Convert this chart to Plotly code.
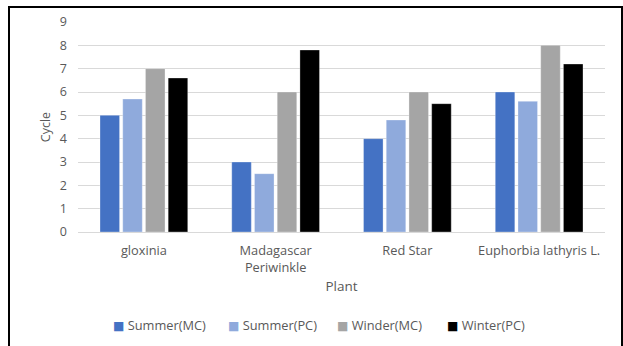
import plotly.graph_objects as go

plants = ["gloxinia", "Madagascar<br>Periwinkle", "Red Star", "Euphorbia lathyris L."]
summer_mc = [5, 3, 4, 6]
summer_pc = [5.7, 2.5, 4.8, 5.6]
winder_mc = [7, 6, 6, 8]
winter_pc = [6.6, 7.8, 5.5, 7.2]

series_names = ["Summer(MC)", "Summer(PC)", "Winder(MC)", "Winter(PC)"]
series_values = [summer_mc, summer_pc, winder_mc, winter_pc]
series_colors = ["#4472C4", "#8FAADC", "#A5A5A5", "#000000"]

W, H = 623, 346
L, R, T, B = 78, 18, 22, 114
pw, ph = W - L - R, H - T - B


def px_x(p):
    return (p - L) / pw


def px_y(p):
    return (H - B - p) / ph


FONT = "Open Sans, Noto Sans, sans-serif"
GRAY = "#595959"
TXT = 12.8

fig = go.Figure()
for name, vals, color in zip(series_names, series_values, series_colors):
    fig.add_trace(go.Bar(
        name=name, x=plants, y=vals, showlegend=False,
        marker=dict(color=color, line=dict(color="rgba(255,255,255,0.6)", width=0.5)),
    ))

# Legend row: coloured square followed by the series name
legend_left = [111, 226, 335, 445]
annotations = []
for name, color, left in zip(series_names, series_colors, legend_left):
    annotations.append(dict(
        xref="paper", yref="paper", x=px_x(left), y=px_y(325),
        xanchor="left", yanchor="middle", showarrow=False,
        text=f'<span style="color:{color};font-family:DejaVu Sans;font-size:12px">■</span> {name}',
        font=dict(family=FONT, size=TXT, color=GRAY),
    ))

fig.update_layout(
    width=W, height=H,
    margin=dict(l=L, r=R, t=T, b=B, autoexpand=False),
    paper_bgcolor="white", plot_bgcolor="white",
    font=dict(family=FONT, size=TXT, color=GRAY),
    barmode="group", bargap=0.31, bargroupgap=0.14,
    showlegend=False,
    annotations=annotations,
    xaxis=dict(
        showgrid=False, showline=True, linecolor="#D9D9D9", linewidth=1,
        ticks="", automargin=False, ticklabelstandoff=7,
        tickfont=dict(family=FONT, size=TXT, color=GRAY),
        title=dict(text="Plant", font=dict(family=FONT, size=13.5, color=GRAY), standoff=6),
    ),
    yaxis=dict(
        range=[0, 9], dtick=1, showgrid=True, gridcolor="#D9D9D9", gridwidth=1,
        zeroline=False, showline=False, ticks="", automargin=False,
        tickfont=dict(family=FONT, size=12.5, color=GRAY), ticklabelstandoff=10,
        title=dict(text="Cycle", font=dict(family=FONT, size=12.5, color=GRAY), standoff=6),
    ),
    shapes=[dict(
        type="rect", xref="paper", yref="paper",
        x0=px_x(9), x1=px_x(622), y0=px_y(360), y1=px_y(7),
        line=dict(color="black", width=2), fillcolor="rgba(0,0,0,0)", layer="below",
    )],
)

fig.write_html("out.html")
